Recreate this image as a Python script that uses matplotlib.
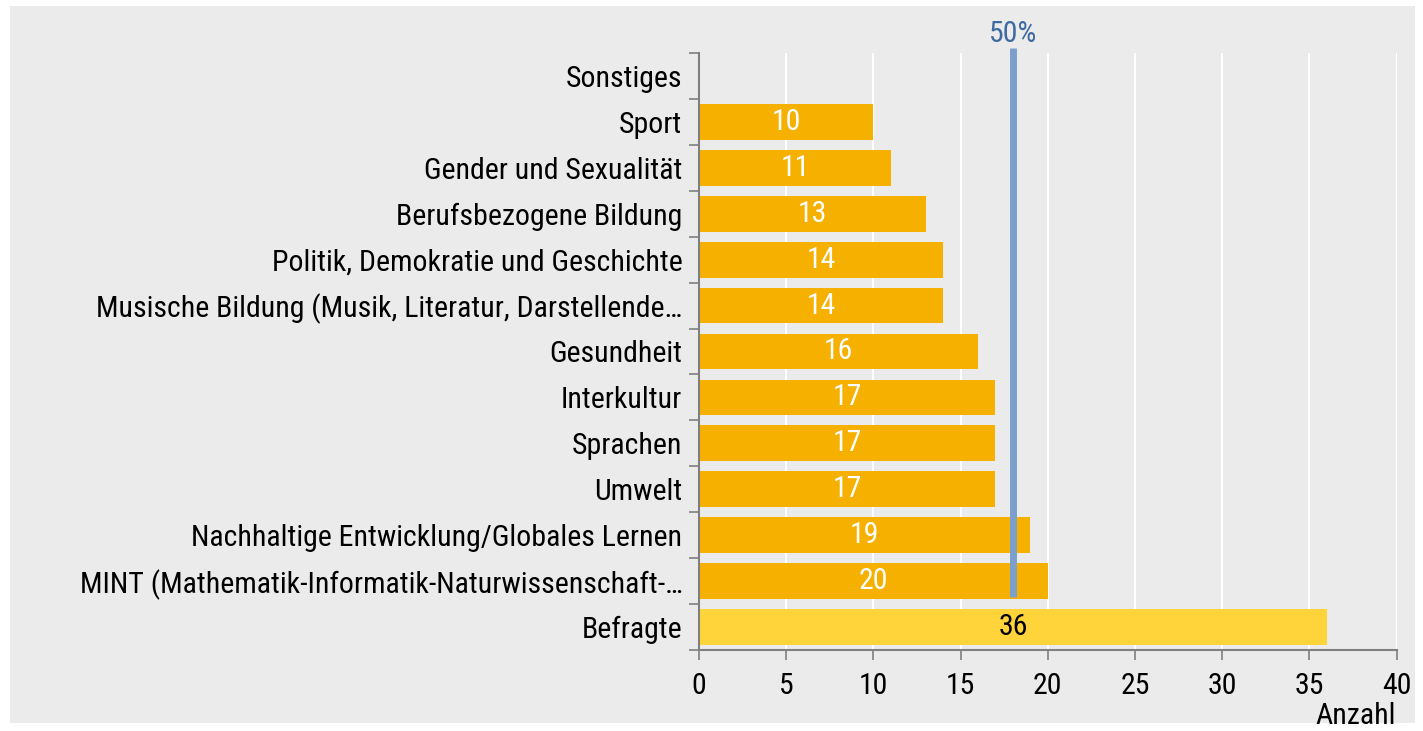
import matplotlib
matplotlib.use("Agg")
import matplotlib.pyplot as plt
from matplotlib.patches import Rectangle
from matplotlib.ticker import FixedLocator

# data, bottom to top
categories = ["Befragte",
              "MINT (Mathematik-Informatik-Naturwissenschaft-\u2026",
              "Nachhaltige Entwicklung/Globales Lernen",
              "Umwelt",
              "Sprachen",
              "Interkultur",
              "Gesundheit",
              "Musische Bildung (Musik, Literatur, Darstellende\u2026",
              "Politik, Demokratie und Geschichte",
              "Berufsbezogene Bildung",
              "Gender und Sexualität",
              "Sport",
              "Sonstiges"]
values = [36, 20, 19, 17, 17, 17, 16, 14, 14, 13, 11, 10, 0]
half_mark = 18  # 50% of Befragte
x_ticks = [0, 5, 10, 15, 20, 25, 30, 35, 40]

plt.rcParams['font.family'] = ['Roboto Condensed', 'DejaVu Sans']
fs = 21.5

fig = plt.figure(figsize=(14.23, 7.31), dpi=100, facecolor='white')
fig.patches.append(Rectangle((10 / 1423, 1 - 723 / 731), 1405 / 1423, 717 / 731,
                             transform=fig.transFigure, facecolor='#ebebeb',
                             edgecolor='none', zorder=-10))

ax = fig.add_axes([699 / 1423, 1 - 650 / 731, 697.6 / 1423, 597 / 731])
ax.set_facecolor('#ebebeb')

pos = list(range(len(categories)))
colors = ['#ffd43b'] + ['#f5b000'] * (len(categories) - 1)
ax.barh(pos, values, height=0.78, color=colors, zorder=2)

for i, v in enumerate(values):
    if v == 0:
        continue
    ax.text(v / 2, i, str(v), ha='center', va='center', fontsize=fs,
            color='black' if i == 0 else 'white', zorder=3)

# 50% marker line
ax.plot([half_mark, half_mark], [0.65, 12.6], color='#7ba0cc', lw=5,
        solid_capstyle='butt', zorder=4, clip_on=False)
ax.text(half_mark, 12.6, "50%", ha='center', va='bottom', fontsize=fs,
        color='#3d6aa0')

ax.set_xlim(0, 40)
ax.set_ylim(-0.5, 12.5)
ax.set_xticks(x_ticks)
ax.set_xticklabels([str(t) for t in x_ticks], fontsize=fs)
ax.set_yticks(pos)
ax.set_yticklabels(categories, fontsize=fs)
ax.yaxis.set_minor_locator(FixedLocator([p - 0.5 for p in pos] + [12.5]))
ax.tick_params(axis='y', which='major', length=0, pad=12)
ax.tick_params(axis='y', which='minor', length=7, color='#808080', width=1.2)
ax.tick_params(axis='x', length=7, color='#808080', width=1.2, pad=9)

ax.grid(axis='x', color='white', lw=1.5, zorder=1)
ax.set_axisbelow(True)
for s in ['top', 'right']:
    ax.spines[s].set_visible(False)
for s in ['left', 'bottom']:
    ax.spines[s].set_color('#808080')
    ax.spines[s].set_linewidth(1.5)

fig.text(1396 / 1423, 1 - 716 / 731, "Anzahl", ha='right', va='center', fontsize=fs)

fig.savefig("out.png", dpi=100, facecolor=fig.get_facecolor())
